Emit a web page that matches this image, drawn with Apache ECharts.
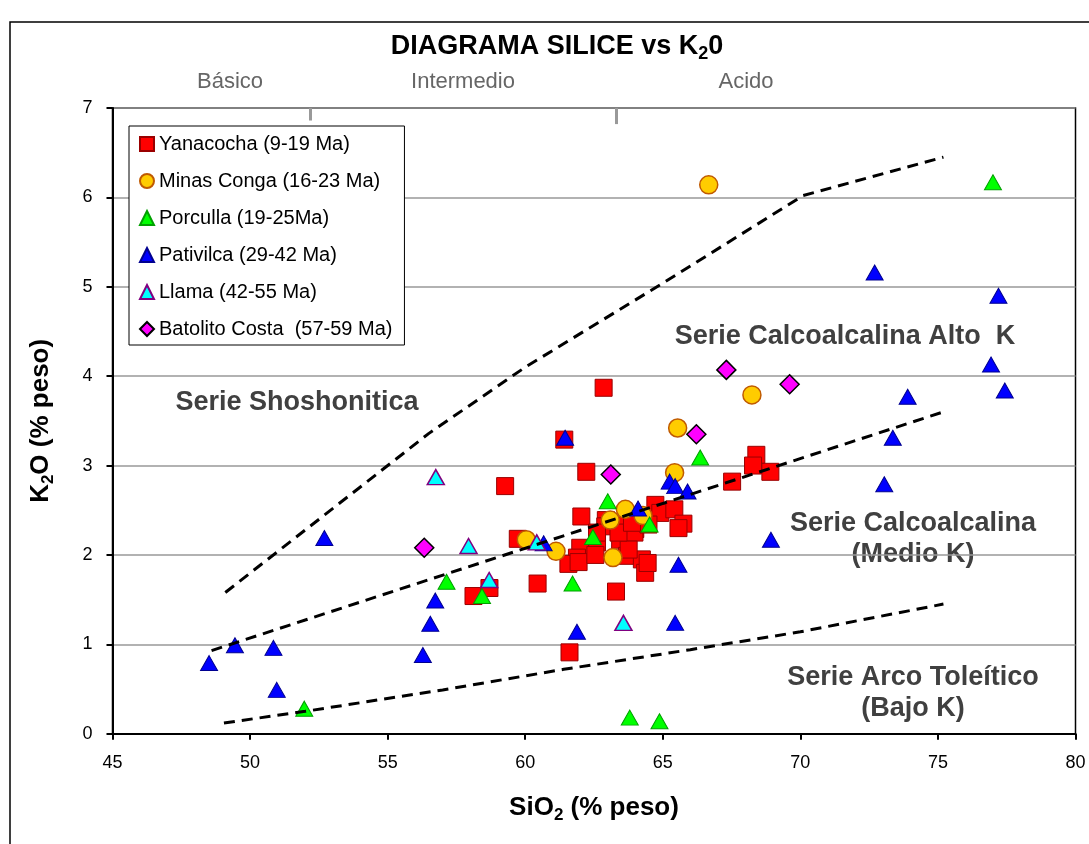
<!DOCTYPE html>
<html>
<head>
<meta charset="utf-8">
<script src="https://cdn.jsdelivr.net/npm/echarts@6/dist/echarts.min.js"></script>
<style>
  html, body { margin: 0; padding: 0; background: #fff; }
  #chart { width: 1089px; height: 844px; }
</style>
</head>
<body>
<div id="chart"></div>
<script>
// SiO2 (wt %) vs K2O (wt %) for each intrusive suite
const yanacocha = [
  [62.85, 3.87], [61.42, 3.29], [59.27, 2.77], [62.22, 2.93], [62.04, 2.43], [59.73, 2.18],
  [60.45, 1.68], [58.12, 1.54], [58.70, 1.63], [63.30, 1.59], [61.61, 0.91], [67.52, 2.82],
  [68.40, 3.12], [68.28, 3.00], [68.91, 2.93], [64.73, 2.56], [64.91, 2.47], [65.42, 2.51],
  [65.75, 2.35], [65.57, 2.30], [62.93, 2.39], [62.91, 2.32], [63.52, 2.33], [64.00, 2.29],
  [63.45, 2.17], [62.61, 2.14], [62.00, 2.08], [61.88, 1.97], [61.57, 1.90], [61.94, 1.92],
  [62.55, 2.00], [63.70, 1.99], [64.24, 1.95], [64.36, 1.80], [64.45, 1.91], [63.97, 2.25],
  [64.48, 2.34], [63.76, 2.06], [63.39, 2.25], [63.88, 2.36], [62.61, 2.25]
];
const minasConga = [
  [66.67, 6.14], [68.24, 3.79], [65.54, 3.42], [65.43, 2.92], [60.04, 2.17], [61.12, 2.04],
  [63.19, 1.97], [63.09, 2.39], [63.64, 2.51], [64.28, 2.44]
];
const porculla = [
  [77.00, 6.17], [66.36, 3.09], [63.00, 2.60], [64.52, 2.34], [62.46, 2.20], [57.14, 1.70],
  [58.43, 1.54], [61.72, 1.68], [51.97, 0.28], [63.80, 0.18], [64.88, 0.14]
];
const pativilca = [
  [72.70, 5.16], [77.20, 4.90], [76.93, 4.13], [77.43, 3.84], [73.90, 3.77], [73.36, 3.31],
  [73.05, 2.79], [68.93, 2.17], [65.57, 1.89], [65.45, 1.24], [61.45, 3.31], [65.25, 2.82],
  [65.45, 2.77], [65.90, 2.71], [64.10, 2.52], [60.67, 2.13], [61.88, 1.14], [52.70, 2.19],
  [56.73, 1.49], [56.55, 1.23], [56.28, 0.88], [49.45, 0.99], [48.51, 0.79], [50.85, 0.96],
  [50.97, 0.49]
];
const llama = [
  [56.75, 2.87], [57.94, 2.10], [60.42, 2.14], [58.69, 1.72], [63.57, 1.24]
];
const batolitoCosta = [
  [67.31, 4.07], [69.61, 3.91], [66.22, 3.35], [63.11, 2.90], [56.33, 2.08]
];

// Series boundaries (dashed curves)
const shoshoniticBoundary = [[49.1, 1.58], [56.5, 3.36], [60.0, 4.10], [65.0, 5.04], [70.1, 6.02], [75.2, 6.45]];
const highKBoundary = [[48.6, 0.93], [75.2, 3.60]];
const lowKBoundary = [[49.05, 0.12], [52.0, 0.25], [57.0, 0.49], [61.4, 0.72], [66.0, 0.94], [70.0, 1.14], [75.2, 1.45]];

// Silica classes: basic / intermediate / acid limits
const silicaLimits = [52.2, 63.3];
const silicaLimitEnds = [6.86, 6.82];

const seriesNames = [
  'Yanacocha (9-19 Ma)',
  'Minas Conga (16-23 Ma)',
  'Porculla (19-25Ma)',
  'Pativilca (29-42 Ma)',
  'Llama (42-55 Ma)',
  'Batolito Costa  (57-59 Ma)'
];
const xTicks = { min: 45, max: 80, step: 5 };
const yTicks = { min: 0, max: 7, step: 1 };

const FONT = '"Liberation Sans", Arial, sans-serif';

const chart = echarts.init(document.getElementById('chart'), null, { renderer: 'canvas' });

function subRich(size, color) {
  return {
    b: { fontFamily: FONT, fontSize: size, fontWeight: 'bold', color: color, lineHeight: size + 6 },
    s: { fontFamily: FONT, fontSize: Math.round(size * 0.65), fontWeight: 'bold', color: color,
         lineHeight: size + 6, verticalAlign: 'bottom' }
  };
}

function scatter(name, data, symbol, size, fill, stroke, strokeWidth) {
  return {
    name: name,
    type: 'scatter',
    data: data,
    symbol: symbol,
    symbolSize: size,
    clip: false,
    itemStyle: { color: fill, borderColor: stroke, borderWidth: strokeWidth, opacity: 1 },
    emphasis: { disabled: true }
  };
}

function dashed(data) {
  return {
    type: 'line',
    data: data,
    showSymbol: false,
    symbol: 'none',
    silent: true,
    z: 10,
    lineStyle: { color: '#000', width: 3, type: [11, 7] },
    emphasis: { disabled: true }
  };
}

const annotationStyle = {
  fontFamily: FONT, fontSize: 27, fontWeight: 'bold', fill: '#404040',
  align: 'center', verticalAlign: 'middle', lineHeight: 31
};

const option = {
  animation: false,
  backgroundColor: '#fff',
  grid: {
    left: 112.5, right: 13.5, top: 108, bottom: 110.3,
    show: true, borderColor: '#000', borderWidth: 1.5, backgroundColor: 'transparent'
  },
  xAxis: {
    type: 'value',
    min: xTicks.min, max: xTicks.max, interval: xTicks.step,
    name: '{b|SiO}{s|2}{b| (% peso)}',
    nameLocation: 'middle',
    nameGap: 58,
    nameTextStyle: { rich: subRich(26, '#000') },
    axisLine: { lineStyle: { color: '#000', width: 2 } },
    axisTick: { show: true, inside: false, length: 6, lineStyle: { color: '#000', width: 2 } },
    axisLabel: { fontFamily: FONT, fontSize: 18, color: '#000', margin: 20 },
    splitLine: { show: false }
  },
  yAxis: {
    type: 'value',
    min: yTicks.min, max: yTicks.max, interval: yTicks.step,
    name: '{b|K}{s|2}{b|O (% peso)}',
    nameLocation: 'middle',
    nameRotate: 90,
    nameGap: 56,
    nameTextStyle: { rich: subRich(26, '#000') },
    axisLine: { show: true, lineStyle: { color: '#000', width: 2 } },
    axisTick: { show: true, inside: false, length: 6, lineStyle: { color: '#000', width: 2 } },
    axisLabel: { fontFamily: FONT, fontSize: 18, color: '#000', margin: 20 },
    splitLine: { show: true, lineStyle: { color: '#999', width: 1.5 } }
  },
  legend: {
    data: seriesNames,
    orient: 'vertical',
    left: 129, top: 126,
    padding: [8, 12, 6, 10],
    itemWidth: 14, itemHeight: 14, itemGap: 17,
    backgroundColor: '#fff',
    borderColor: '#000', borderWidth: 1,
    textStyle: { fontFamily: FONT, fontSize: 20, color: '#000', lineHeight: 20 },
    selectedMode: false,
    z: 6
  },
  graphic: [
    { type: 'rect', silent: true, z: -5,
      shape: { x: 10, y: 22, width: 1200, height: 1000 },
      style: { fill: 'none', stroke: '#000', lineWidth: 1.5 } },
    { type: 'text', silent: true, z: -5, x: 557, y: 47,
      style: { text: '{b|DIAGRAMA SILICE vs K}{s|2}{b|0}', align: 'center', verticalAlign: 'middle',
               rich: subRich(27, '#000') } },
    { type: 'text', silent: true, z: -5, x: 230, y: 82,
      style: { text: 'Básico', fontFamily: FONT, fontSize: 22, fill: '#666', align: 'center', verticalAlign: 'middle' } },
    { type: 'text', silent: true, z: -5, x: 463, y: 82,
      style: { text: 'Intermedio', fontFamily: FONT, fontSize: 22, fill: '#666', align: 'center', verticalAlign: 'middle' } },
    { type: 'text', silent: true, z: -5, x: 746, y: 82,
      style: { text: 'Acido', fontFamily: FONT, fontSize: 22, fill: '#666', align: 'center', verticalAlign: 'middle' } },
    { type: 'text', silent: true, z: -5, x: 297, y: 403,
      style: Object.assign({ text: 'Serie Shoshonitica' }, annotationStyle) },
    { type: 'text', silent: true, z: -5, x: 845, y: 337,
      style: Object.assign({ text: 'Serie Calcoalcalina Alto  K' }, annotationStyle) },
    { type: 'text', silent: true, z: -5, x: 913, y: 539,
      style: Object.assign({ text: 'Serie Calcoalcalina\n(Medio K)' }, annotationStyle) },
    { type: 'text', silent: true, z: -5, x: 913, y: 693,
      style: Object.assign({ text: 'Serie Arco Toleítico\n(Bajo K)' }, annotationStyle) }
  ],
  series: [
    scatter(seriesNames[0], yanacocha, 'rect', 17, '#FF0000', '#9A0000', 1),
    scatter(seriesNames[1], minasConga, 'circle', 18, '#FFCC00', '#C05A00', 1.5),
    scatter(seriesNames[2], porculla, 'triangle', [17, 15], '#00FF00', '#00A000', 1),
    scatter(seriesNames[3], pativilca, 'triangle', [17, 15], '#0000FF', '#000090', 1),
    scatter(seriesNames[4], llama, 'triangle', [17, 15], '#00FFFF', '#800080', 1.5),
    scatter(seriesNames[5], batolitoCosta, 'diamond', [19, 19], '#FF00FF', '#000000', 1.5),
    dashed(shoshoniticBoundary),
    dashed(highKBoundary),
    dashed(lowKBoundary),
    {
      type: 'line',
      data: [],
      silent: true,
      markLine: {
        silent: true,
        symbol: 'none',
        label: { show: false },
        lineStyle: { color: '#999', width: 3, type: 'solid' },
        data: silicaLimits.map((x, i) => [{ coord: [x, yTicks.max] }, { coord: [x, silicaLimitEnds[i]] }])
      }
    }
  ]
};

chart.setOption(option);
</script>
</body>
</html>
